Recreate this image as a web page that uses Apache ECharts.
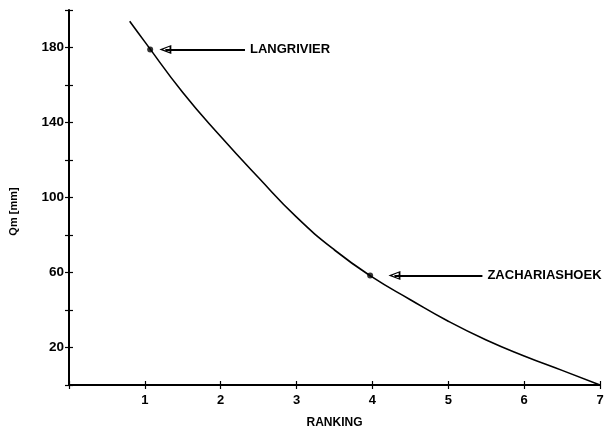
<!DOCTYPE html>
<html><head><meta charset="utf-8">
<script src="https://cdn.jsdelivr.net/npm/echarts@6/dist/echarts.min.js"></script>
<style>html,body{margin:0;padding:0;background:#fff}#c{width:607px;height:434px}</style>
</head><body><div id="c"></div>
<script>
const curveX = [0.80, 1.0, 1.5, 2.0, 2.5, 3.0, 3.5, 4.0, 4.5, 5.0, 5.5, 6.0, 6.5, 7.0];
const curveY = [194, 183, 156, 132.5, 110.5, 89.5, 72, 57.5, 45.5, 34, 24, 15.5, 7.8, 0];
const siteNames = ['LANGRIVIER', 'ZACHARIASHOEK'];
const siteX = [1.07, 3.97];
const siteY = [179, 58.4];
const arrowStartX = [1.27, 4.29];
const arrowEndX = [2.32, 5.45];
const xTicks = [1, 2, 3, 4, 5, 6, 7];
const yLabels = [20, 60, 100, 140, 180];

const FONT = 'Liberation Sans';
const headPath = 'path://M0,0 L10,20 L-10,20 Z M0,6 L-6,17 L6,17 Z';

const chart = echarts.init(document.getElementById('c'));
const axisCommon = {
  axisLine: { show: true, lineStyle: { color: '#000', width: 2 } },
  splitLine: { show: false }
};
chart.setOption({
  animation: false,
  backgroundColor: '#fff',
  grid: { left: 67, right: 7, top: 10, bottom: 45 },
  xAxis: [
    Object.assign({}, axisCommon, {
      type: 'value', min: 0, max: 7, interval: 1,
      name: 'RANKING', nameLocation: 'middle', nameGap: 32,
      nameTextStyle: { fontFamily: FONT, fontWeight: 'bold', fontSize: 12, color: '#000' },
      axisTick: { show: true, length: 4, lineStyle: { color: '#000', width: 1.2 } },
      axisLabel: { color: '#000', fontFamily: FONT, fontWeight: 'bold', fontSize: 13, margin: 9,
        formatter: v => xTicks.indexOf(v) >= 0 ? String(v) : '' }
    }),
    Object.assign({}, axisCommon, {
      type: 'value', min: 0, max: 7, interval: 1, position: 'bottom',
      axisLine: { show: false },
      axisTick: { show: true, inside: true, length: 4, lineStyle: { color: '#000', width: 1.2 } },
      axisLabel: { show: false }
    })
  ],
  yAxis: [
    Object.assign({}, axisCommon, {
      type: 'value', min: 0, max: 200, interval: 20,
      name: 'Qm [mm]', nameLocation: 'middle', nameGap: 50,
      nameTextStyle: { fontFamily: FONT, fontWeight: 'bold', fontSize: 11, color: '#000', padding: [0, 28, 0, 0] },
      axisTick: { show: true, length: 4, lineStyle: { color: '#000', width: 1.2 } },
      axisLabel: { color: '#000', fontFamily: FONT, fontWeight: 'bold', fontSize: 13.5, margin: 5,
        formatter: v => yLabels.indexOf(v) >= 0 ? String(v) : '' }
    }),
    Object.assign({}, axisCommon, {
      type: 'value', min: 0, max: 200, interval: 20, position: 'left',
      axisLine: { show: false },
      axisTick: { show: true, inside: true, length: 4, lineStyle: { color: '#000', width: 1.2 } },
      axisLabel: { show: false }
    })
  ],
  series: [
    {
      type: 'line', smooth: 0.5, symbol: 'none',
      data: curveX.map((x, i) => [x, curveY[i]]),
      lineStyle: { color: '#000', width: 1.6 },
      markLine: {
        silent: true,
        symbol: [headPath, 'none'],
        symbolSize: [9, 12],
        lineStyle: { color: '#000', width: 2, type: 'solid' },
        label: { show: true, position: 'end', distance: 5, color: '#000',
          fontFamily: FONT, fontWeight: 'bold', fontSize: 13,
          formatter: p => p.name },
        data: siteNames.map((n, i) => [
          { name: n, coord: [arrowStartX[i], siteY[i]] },
          { coord: [arrowEndX[i], siteY[i]] }
        ])
      }
    },
    {
      type: 'scatter', symbol: 'circle', symbolSize: 6,
      itemStyle: { color: '#000' },
      data: siteX.map((x, i) => [x, siteY[i]])
    }
  ]
});
</script></body></html>
